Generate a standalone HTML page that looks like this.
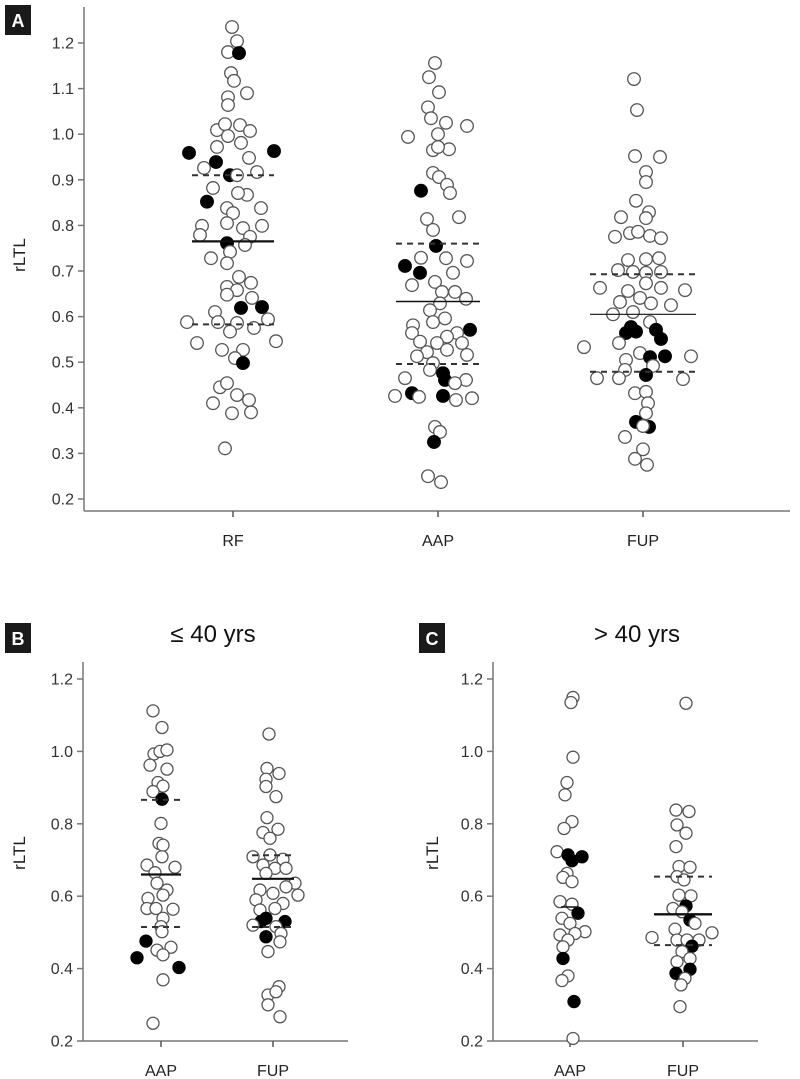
<!DOCTYPE html>
<html><head><meta charset="utf-8"><style>
html,body{margin:0;padding:0;background:#fff;}
svg{display:block;font-family:"Liberation Sans",Arial,sans-serif;}
</style></head><body>
<svg id="chart" width="800" height="1079" viewBox="0 0 800 1079"></svg>
<script>
// ---------- Panel A data ----------
const aCategories = ["RF","AAP","FUP"];
const aRFvals = [1.235,1.204,1.18,1.178,1.134,1.117,1.09,1.081,1.064,1.009,1.022,1.02,1.007,0.996,0.981,0.972,0.959,0.963,0.939,0.948,0.926,0.91,0.91,0.917,0.882,0.867,0.852,0.871,0.838,0.838,0.827,0.799,0.805,0.794,0.799,0.779,0.775,0.761,0.742,0.757,0.728,0.717,0.687,0.674,0.665,0.658,0.648,0.641,0.61,0.619,0.621,0.588,0.588,0.586,0.594,0.575,0.567,0.542,0.546,0.527,0.527,0.509,0.498,0.445,0.454,0.428,0.417,0.41,0.388,0.39,0.311];
const aRFfill = [0,0,0,1,0,0,0,0,0,0,0,0,0,0,0,0,1,1,1,0,0,1,0,0,0,0,1,0,0,0,0,0,0,0,0,0,0,1,0,0,0,0,0,0,0,0,0,0,0,1,1,0,0,0,0,0,0,0,0,0,0,0,1,0,0,0,0,0,0,0,0];
const aRFjit = [-1,4,-5,6,-2,1,14,-5,-5,-16,-8,7,17,-5,8,-16,-44,41,-17,16,-29,-3,4,24,-20,14,-26,5,-6,28,0,-31,-6,10,29,-33,17,-6,-3,12,-22,-6,6,18,-6,4,-6,19,-18,8,29,-46,-15,4,35,21,-3,-36,43,-11,10,2,10,-13,-6,4,16,-20,-1,18,-8];
const aAAPvals = [1.156,1.125,1.092,1.059,1.035,1.025,1.018,0.994,1.0,0.965,0.967,0.972,0.915,0.906,0.889,0.871,0.876,0.814,0.818,0.79,0.755,0.729,0.728,0.722,0.711,0.696,0.696,0.676,0.669,0.654,0.654,0.639,0.629,0.614,0.596,0.588,0.581,0.571,0.564,0.564,0.556,0.545,0.542,0.542,0.522,0.527,0.516,0.513,0.498,0.483,0.476,0.461,0.465,0.461,0.454,0.426,0.432,0.424,0.426,0.417,0.421,0.358,0.347,0.325,0.25,0.237];
const aAAPfill = [0,0,0,0,0,0,0,0,0,0,0,0,0,0,0,0,1,0,0,0,1,0,0,0,1,1,0,0,0,0,0,0,0,0,0,0,0,1,0,0,0,0,0,0,0,0,0,0,0,0,1,1,0,0,0,0,1,0,1,0,0,0,0,1,0,0];
const aAAPjit = [-3,-9,1,-10,-7,8,29,-30,0,-5,11,0,-5,1,9,12,-17,-11,21,-5,-2,-17,8,29,-33,-18,15,-3,-26,17,4,28,2,-8,7,-5,-25,32,19,-26,9,-18,-1,24,-11,9,29,-21,-5,-8,5,7,-33,28,17,-43,-26,-19,5,18,34,-3,2,-4,-10,3];
const aFUPvals = [1.121,1.053,0.952,0.95,0.917,0.895,0.854,0.829,0.818,0.816,0.775,0.783,0.786,0.777,0.772,0.724,0.726,0.728,0.702,0.698,0.696,0.698,0.663,0.656,0.673,0.663,0.658,0.632,0.641,0.629,0.625,0.605,0.61,0.588,0.577,0.564,0.567,0.571,0.551,0.533,0.542,0.52,0.511,0.513,0.513,0.505,0.492,0.483,0.472,0.465,0.463,0.465,0.432,0.435,0.41,0.388,0.369,0.358,0.36,0.336,0.309,0.288,0.275];
const aFUPfill = [0,0,0,0,0,0,0,0,0,0,0,0,0,0,0,0,0,0,0,0,0,0,0,0,0,0,0,0,0,0,0,0,0,0,1,1,1,1,1,0,0,0,1,1,0,0,0,0,1,0,0,0,0,0,0,0,1,1,0,0,0,0,0];
const aFUPjit = [-9,-6,-8,17,3,3,-7,6,-22,3,-28,-13,-5,7,18,-15,3,16,-25,-10,3,18,-43,-15,3,18,42,-23,-3,8,28,-30,-10,7,-12,-17,-7,13,18,-59,-24,-3,7,22,48,-17,10,-18,3,-46,40,-24,-8,3,5,3,-7,6,0,-18,0,-8,4];
const aMeans = [0.765,0.633,0.605];
const aQ3 = [0.91,0.76,0.693];
const aQ1 = [0.583,0.496,0.479];
const aTicks = [0.2,0.3,0.4,0.5,0.6,0.7,0.8,0.9,1.0,1.1,1.2];

// ---------- Panel B data (<= 40 yrs) ----------
const bCategories = ["AAP","FUP"];
const bAAPvals = [1.112,1.066,0.993,1.0,1.004,0.962,0.951,0.914,0.904,0.889,0.868,0.801,0.746,0.741,0.709,0.686,0.68,0.665,0.636,0.617,0.603,0.594,0.566,0.566,0.564,0.539,0.516,0.502,0.476,0.43,0.451,0.459,0.438,0.403,0.369,0.249];
const bAAPfill = [0,0,0,0,0,0,0,0,0,0,1,0,0,0,0,0,0,0,0,0,0,0,0,0,0,0,0,0,1,1,0,0,0,1,0,0];
const bAAPjit = [-8,1,-7,-1,6,-11,6,-3,2,-8,1,0,-2,2,1,-14,14,-6,-4,6,2,-13,-14,-5,12,2,0,1,-15,-24,-4,10,2,18,2,-8];
const bFUPvals = [1.048,0.953,0.939,0.923,0.903,0.875,0.817,0.776,0.785,0.76,0.709,0.714,0.702,0.686,0.677,0.677,0.663,0.636,0.626,0.617,0.608,0.603,0.59,0.58,0.566,0.562,0.539,0.53,0.53,0.52,0.516,0.497,0.488,0.474,0.447,0.35,0.327,0.336,0.3,0.267];
const bFUPfill = [0,0,0,0,0,0,0,0,0,0,0,0,0,0,0,0,0,0,0,0,0,0,0,0,0,0,1,1,1,0,0,0,1,0,0,0,0,0,0,0];
const bFUPjit = [-4,-6,6,-7,-7,3,-6,-10,5,-3,-20,-3,10,-10,2,13,-7,22,13,-13,0,25,-17,10,2,-13,-7,-12,12,-20,3,8,-7,7,-5,6,-5,3,-5,7];
const bMeans = [0.66,0.648];
const bQ3 = [0.866,0.713];
const bQ1 = [0.515,0.515];

// ---------- Panel C data (> 40 yrs) ----------
const cCategories = ["AAP","FUP"];
const cAAPvals = [1.149,1.135,0.984,0.914,0.88,0.806,0.787,0.723,0.714,0.709,0.698,0.663,0.652,0.64,0.585,0.578,0.553,0.539,0.525,0.502,0.493,0.497,0.479,0.46,0.428,0.38,0.367,0.309,0.207];
const cAAPfill = [0,0,0,0,0,0,0,0,1,1,1,0,0,0,0,0,1,0,0,0,0,0,0,0,1,0,0,1,0];
const cAAPjit = [3,1,3,-3,-5,2,-6,-13,-2,12,2,-3,-7,2,-10,2,8,-8,0,15,-10,5,-2,-7,-7,-2,-8,4,3];
const cFUPvals = [1.133,0.838,0.834,0.797,0.774,0.737,0.682,0.68,0.654,0.645,0.603,0.601,0.566,0.573,0.557,0.534,0.509,0.525,0.486,0.499,0.479,0.479,0.479,0.462,0.447,0.419,0.428,0.387,0.398,0.373,0.355,0.295];
const cFUPfill = [0,0,0,0,0,0,0,0,0,0,0,0,0,1,0,1,0,0,0,0,0,0,0,1,0,0,0,1,1,0,0,0];
const cFUPjit = [3,-7,6,-6,3,-7,-4,7,-6,1,-4,8,-10,3,-1,7,-8,12,-31,29,-6,4,16,9,-1,-6,7,-7,7,2,-2,-3];
const cMeans = [0.57,0.55];
const cQ3 = [null,0.654];
const cQ1 = [null,0.465];
const bcTicks = [0.2,0.4,0.6,0.8,1.0,1.2];

const svg = document.getElementById('chart');
const NS = 'http://www.w3.org/2000/svg';
function mk(tag, attrs, parent){
  const e = document.createElementNS(NS, tag);
  for (const k in attrs) e.setAttribute(k, attrs[k]);
  (parent||svg).appendChild(e);
  return e;
}

function panel(cfg){
  const g = mk('g', {});
  
  
  const y = v => cfg.yTop + (cfg.vTop - v) * (cfg.yBot - cfg.yTop) / (cfg.vTop - cfg.vBot);
  const x = i => cfg.xCats[i];
  // axes
  const ya = mk('line', {x1:cfg.axX, y1:cfg.axTop, x2:cfg.axX, y2:cfg.axBot, stroke:'#777', 'stroke-width':1.5}, g);
  
  
  const xa = mk('line', {x1:cfg.axX, y1:cfg.axBot, x2:cfg.axRight, y2:cfg.axBot, stroke:'#777', 'stroke-width':1.5}, g);
  
  
  cfg.ticks.forEach(t => {
    const yy = y(t);
    mk('line', {x1:cfg.axX-6, y1:yy, x2:cfg.axX, y2:yy, stroke:'#777', 'stroke-width':1.5}, g);
    const tx = mk('text', {x:cfg.axX-10, y:yy+5.5, 'text-anchor':'end', 'font-size':16, fill:'#333'}, g);
    tx.textContent = t.toFixed(1);
    
    
  });
  cfg.cats.forEach((c, i) => {
    mk('line', {x1:x(i), y1:cfg.axBot, x2:x(i), y2:cfg.axBot+6, stroke:'#555', 'stroke-width':1.5}, g);
    const tx = mk('text', {x:x(i), y:cfg.catY, 'text-anchor':'middle', 'font-size':16, fill:'#222'}, g);
    tx.textContent = c;
    
    
  });
  const yl = mk('text', {x:0, y:0, 'text-anchor':'middle', 'font-size':17, fill:'#222', transform:`translate(${cfg.ylX},${cfg.ylY}) rotate(-90)`}, g);
  yl.textContent = 'rLTL';
  
  
  // points
  cfg.series.forEach((s, i) => {
    s.vals.forEach((v, k) => {
      const c = mk('circle', {cx:x(i)+s.jit[k], cy:y(v), r:cfg.r, fill:s.fill[k]?'#000':'#fff', stroke:s.fill[k]?'#000':'#555', 'stroke-width':1.3}, g);
      
      
    });
  });
  // summary lines
  cfg.cats.forEach((c, i) => {
    const hw = cfg.lineHW[i];
    if (cfg.means[i] != null) {
      const l = mk('line', {x1:x(i)-hw, y1:y(cfg.means[i]), x2:x(i)+hw, y2:y(cfg.means[i]), stroke:'#111', 'stroke-width':cfg.meanW[i]}, g);
      
      
    }
    [cfg.q3[i], cfg.q1[i]].forEach(q => {
      if (q == null) return;
      const l = mk('line', {x1:x(i)-hw, y1:y(q), x2:x(i)+hw, y2:y(q), stroke:'#333', 'stroke-width':2, 'stroke-dasharray':'6,5'}, g);
      
      
    });
  });
  // panel letter
  const b = mk('rect', {x:cfg.boxX, y:cfg.boxY, width:26, height:30, fill:'#1a1a1a'}, g);
  
  
  const bt = mk('text', {x:cfg.boxX+13, y:cfg.boxY+22, 'text-anchor':'middle', 'font-size':18, 'font-weight':'bold', fill:'#fff'}, g);
  bt.textContent = cfg.letter;
  
  
  if (cfg.title) {
    const t = mk('text', {x:cfg.titleX, y:cfg.titleY, 'text-anchor':'middle', 'font-size':24, fill:'#111'}, g);
    t.textContent = cfg.title;
    
    
  }
}

panel({name:'panel-a', letter:'A', boxX:5, boxY:5, cats:aCategories, xCats:[233,438,643],
  vTop:1.2, vBot:0.2, yTop:43, yBot:499, axX:84, axTop:7, axBot:511, axRight:790, catY:546,
  ticks:aTicks, ylX:25, ylY:255, r:6.3,
  series:[{vals:aRFvals,fill:aRFfill,jit:aRFjit},{vals:aAAPvals,fill:aAAPfill,jit:aAAPjit},{vals:aFUPvals,fill:aFUPfill,jit:aFUPjit}],
  means:aMeans, q3:aQ3, q1:aQ1, lineHW:[41,42,53], meanW:[2.2,1.5,1.2]});

panel({name:'panel-b', letter:'B', boxX:5, boxY:623, title:'\u2264 40 yrs', titleX:213, titleY:642,
  cats:bCategories, xCats:[161,273],
  vTop:1.2, vBot:0.2, yTop:679, yBot:1041, axX:83, axTop:662, axBot:1041, axRight:348, catY:1076,
  ticks:bcTicks, ylX:25, ylY:853, r:6,
  series:[{vals:bAAPvals,fill:bAAPfill,jit:bAAPjit},{vals:bFUPvals,fill:bFUPfill,jit:bFUPjit}],
  means:bMeans, q3:bQ3, q1:bQ1, lineHW:[20,21], meanW:[2.2,2.2]});

panel({name:'panel-c', letter:'C', boxX:419, boxY:623, title:'> 40 yrs', titleX:637, titleY:642,
  cats:cCategories, xCats:[570,683],
  vTop:1.2, vBot:0.2, yTop:679, yBot:1041, axX:493, axTop:662, axBot:1041, axRight:758, catY:1076,
  ticks:bcTicks, ylX:438, ylY:853, r:6,
  series:[{vals:cAAPvals,fill:cAAPfill,jit:cAAPjit},{vals:cFUPvals,fill:cFUPfill,jit:cFUPjit}],
  means:cMeans, q3:cQ3, q1:cQ1, lineHW:[9,29], meanW:[1.5,2.4]});
</script>
</body></html>
